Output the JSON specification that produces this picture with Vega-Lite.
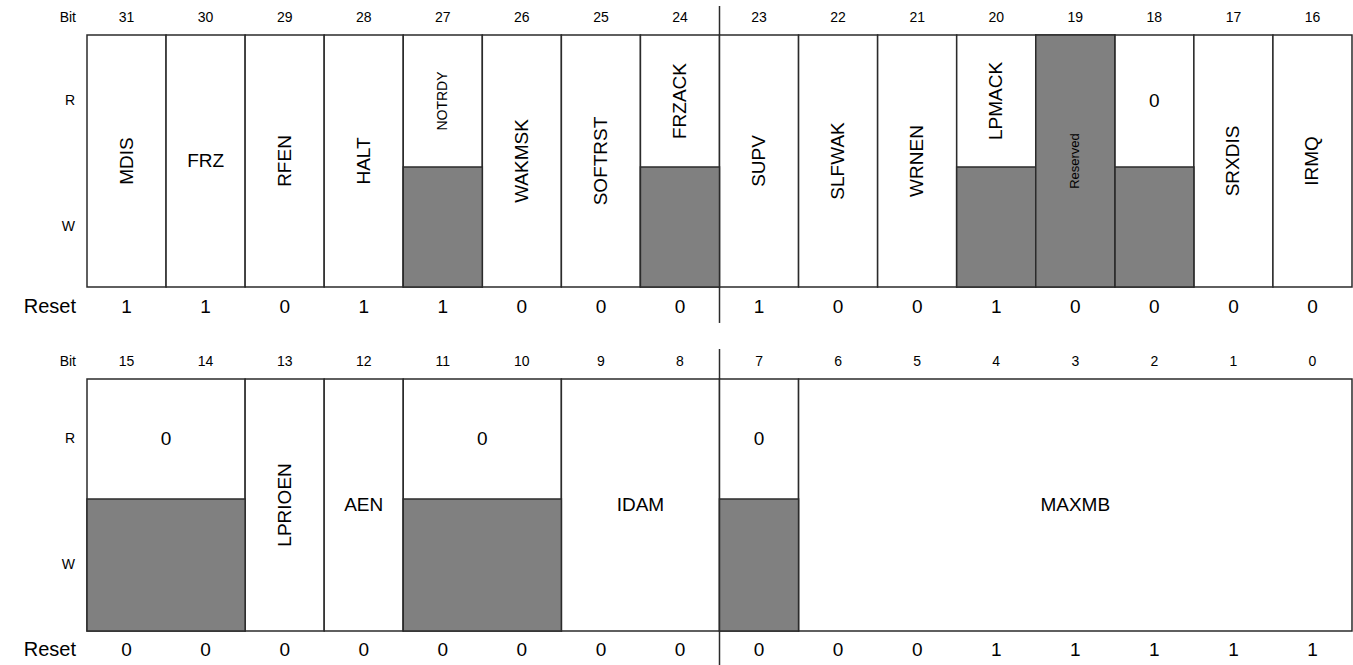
{
  "$schema": "https://vega.github.io/schema/vega-lite/v6.json",
  "width": 1353,
  "height": 665,
  "autosize": {"type": "none"},
  "padding": 0,
  "background": "white",
  "config": {"view": {"stroke": null}, "text": {"font": "Liberation Sans", "color": "#000"}},
  "datasets": {
    "hiFields": [
      {"name": "MDIS", "msb": 31, "lsb": 31, "access": "rw"},
      {"name": "FRZ", "msb": 30, "lsb": 30, "access": "rw"},
      {"name": "RFEN", "msb": 29, "lsb": 29, "access": "rw"},
      {"name": "HALT", "msb": 28, "lsb": 28, "access": "rw"},
      {"name": "NOTRDY", "msb": 27, "lsb": 27, "access": "r"},
      {"name": "WAKMSK", "msb": 26, "lsb": 26, "access": "rw"},
      {"name": "SOFTRST", "msb": 25, "lsb": 25, "access": "rw"},
      {"name": "FRZACK", "msb": 24, "lsb": 24, "access": "r"},
      {"name": "SUPV", "msb": 23, "lsb": 23, "access": "rw"},
      {"name": "SLFWAK", "msb": 22, "lsb": 22, "access": "rw"},
      {"name": "WRNEN", "msb": 21, "lsb": 21, "access": "rw"},
      {"name": "LPMACK", "msb": 20, "lsb": 20, "access": "r"},
      {"name": "Reserved", "msb": 19, "lsb": 19, "access": "reserved"},
      {"name": "0", "msb": 18, "lsb": 18, "access": "r"},
      {"name": "SRXDIS", "msb": 17, "lsb": 17, "access": "rw"},
      {"name": "IRMQ", "msb": 16, "lsb": 16, "access": "rw"}
    ],
    "loFields": [
      {"name": "0", "msb": 15, "lsb": 14, "access": "r"},
      {"name": "LPRIOEN", "msb": 13, "lsb": 13, "access": "rw"},
      {"name": "AEN", "msb": 12, "lsb": 12, "access": "rw"},
      {"name": "0", "msb": 11, "lsb": 10, "access": "r"},
      {"name": "IDAM", "msb": 9, "lsb": 8, "access": "rw"},
      {"name": "0", "msb": 7, "lsb": 7, "access": "r"},
      {"name": "MAXMB", "msb": 6, "lsb": 0, "access": "rw"}
    ],
    "hiBits": [
      {"bit": 31, "reset": 1}, {"bit": 30, "reset": 1}, {"bit": 29, "reset": 0}, {"bit": 28, "reset": 1},
      {"bit": 27, "reset": 1}, {"bit": 26, "reset": 0}, {"bit": 25, "reset": 0}, {"bit": 24, "reset": 0},
      {"bit": 23, "reset": 1}, {"bit": 22, "reset": 0}, {"bit": 21, "reset": 0}, {"bit": 20, "reset": 1},
      {"bit": 19, "reset": 0}, {"bit": 18, "reset": 0}, {"bit": 17, "reset": 0}, {"bit": 16, "reset": 0}
    ],
    "loBits": [
      {"bit": 15, "reset": 0}, {"bit": 14, "reset": 0}, {"bit": 13, "reset": 0}, {"bit": 12, "reset": 0},
      {"bit": 11, "reset": 0}, {"bit": 10, "reset": 0}, {"bit": 9, "reset": 0}, {"bit": 8, "reset": 0},
      {"bit": 7, "reset": 0}, {"bit": 6, "reset": 0}, {"bit": 5, "reset": 0}, {"bit": 4, "reset": 1},
      {"bit": 3, "reset": 1}, {"bit": 2, "reset": 1}, {"bit": 1, "reset": 1}, {"bit": 0, "reset": 1}
    ]
  },
  "resolve": {"scale": {"x": "independent"}},
  "layer": [
    {
      "layer": [
        {
          "data": {"name": "hiFields"},
          "mark": {"type": "rect", "fill": "white", "stroke": "#2b2b2b", "strokeWidth": 1.5, "xOffset": -39.53, "x2Offset": 39.53},
          "encoding": {
            "x": {"field": "msb", "type": "quantitative", "scale": {"domain": [31.5, 15.5], "range": [87, 1352], "zero": false, "nice": false}, "axis": null},
            "x2": {"field": "lsb"},
            "y": {"datum": 1, "type": "quantitative", "scale": {"domain": [-1, 0, 1, 2, 3, 4, 5, 6, 7, 8, 9, 10], "range": [0, 18, 35, 167, 287, 307, 362, 379, 499, 631, 650, 665], "zero": false, "nice": false}, "axis": null},
            "y2": {"datum": 3}
          }
        },
        {
          "data": {"name": "hiFields"},
          "transform": [{"filter": "datum.access === 'r'"}],
          "mark": {"type": "rect", "fill": "#808080", "stroke": "#2b2b2b", "strokeWidth": 1.5, "xOffset": -39.53, "x2Offset": 39.53},
          "encoding": {
            "x": {"field": "msb", "type": "quantitative"},
            "x2": {"field": "lsb"},
            "y": {"datum": 2, "type": "quantitative"},
            "y2": {"datum": 3}
          }
        },
        {
          "data": {"name": "hiFields"},
          "transform": [{"filter": "datum.access === 'reserved'"}],
          "mark": {"type": "rect", "fill": "#808080", "stroke": "#2b2b2b", "strokeWidth": 1.5, "xOffset": -39.53, "x2Offset": 39.53},
          "encoding": {
            "x": {"field": "msb", "type": "quantitative"},
            "x2": {"field": "lsb"},
            "y": {"datum": 1, "type": "quantitative"},
            "y2": {"datum": 3}
          }
        },
        {
          "data": {"name": "hiFields"},
          "transform": [{"filter": "datum.access === 'rw' && datum.name !== 'FRZ'"}],
          "mark": {"type": "text", "angle": 270, "fontSize": 19, "align": "center", "baseline": "middle"},
          "encoding": {
            "x": {"field": "msb", "type": "quantitative"},
            "y": {"datum": 1.9545, "type": "quantitative"},
            "text": {"field": "name"}
          }
        },
        {
          "data": {"name": "hiFields"},
          "transform": [{"filter": "datum.name === 'FRZ'"}],
          "mark": {"type": "text", "fontSize": 19, "align": "center", "baseline": "middle"},
          "encoding": {
            "x": {"field": "msb", "type": "quantitative"},
            "y": {"datum": 1.9545, "type": "quantitative"},
            "text": {"field": "name"}
          }
        },
        {
          "data": {"name": "hiFields"},
          "transform": [{"filter": "datum.name === 'FRZACK' || datum.name === 'LPMACK'"}],
          "mark": {"type": "text", "angle": 270, "fontSize": 19, "align": "center", "baseline": "middle"},
          "encoding": {
            "x": {"field": "msb", "type": "quantitative"},
            "y": {"datum": 1.5, "type": "quantitative"},
            "text": {"field": "name"}
          }
        },
        {
          "data": {"name": "hiFields"},
          "transform": [{"filter": "datum.name === 'NOTRDY'"}],
          "mark": {"type": "text", "angle": 270, "fontSize": 14, "align": "center", "baseline": "middle"},
          "encoding": {
            "x": {"field": "msb", "type": "quantitative"},
            "y": {"datum": 1.5, "type": "quantitative"},
            "text": {"field": "name"}
          }
        },
        {
          "data": {"name": "hiFields"},
          "transform": [{"filter": "datum.name === '0'"}],
          "mark": {"type": "text", "fontSize": 19, "align": "center", "baseline": "middle"},
          "encoding": {
            "x": {"field": "msb", "type": "quantitative"},
            "y": {"datum": 1.5, "type": "quantitative"},
            "text": {"field": "name"}
          }
        },
        {
          "data": {"name": "hiFields"},
          "transform": [{"filter": "datum.access === 'reserved'"}],
          "mark": {"type": "text", "angle": 270, "fontSize": 13, "align": "center", "baseline": "middle"},
          "encoding": {
            "x": {"field": "msb", "type": "quantitative"},
            "y": {"datum": 1.9545, "type": "quantitative"},
            "text": {"field": "name"}
          }
        },
        {
          "data": {"name": "hiBits"},
          "mark": {"type": "text", "fontSize": 14, "align": "center", "baseline": "middle"},
          "encoding": {
            "x": {"field": "bit", "type": "quantitative"},
            "y": {"datum": 0, "type": "quantitative"},
            "text": {"field": "bit", "type": "nominal"}
          }
        },
        {
          "data": {"name": "hiBits"},
          "mark": {"type": "text", "fontSize": 19, "align": "center", "baseline": "middle"},
          "encoding": {
            "x": {"field": "bit", "type": "quantitative"},
            "y": {"datum": 4, "type": "quantitative"},
            "text": {"field": "reset", "type": "nominal"}
          }
        },
        {
          "data": {"values": [{"label": "Bit"}]},
          "mark": {"type": "text", "fontSize": 14, "align": "right", "baseline": "middle", "dx": -11},
          "encoding": {
            "x": {"datum": 31.5, "type": "quantitative"},
            "y": {"datum": 0, "type": "quantitative"},
            "text": {"field": "label"}
          }
        },
        {
          "data": {"values": [{"label": "R"}]},
          "mark": {"type": "text", "fontSize": 14, "align": "right", "baseline": "middle", "dx": -12},
          "encoding": {
            "x": {"datum": 31.5, "type": "quantitative"},
            "y": {"datum": 1.5, "type": "quantitative"},
            "text": {"field": "label"}
          }
        },
        {
          "data": {"values": [{"label": "W"}]},
          "mark": {"type": "text", "fontSize": 14, "align": "right", "baseline": "middle", "dx": -12},
          "encoding": {
            "x": {"datum": 31.5, "type": "quantitative"},
            "y": {"datum": 2.5, "type": "quantitative"},
            "text": {"field": "label"}
          }
        },
        {
          "data": {"values": [{"label": "Reset"}]},
          "mark": {"type": "text", "fontSize": 20, "align": "right", "baseline": "middle", "dx": -11},
          "encoding": {
            "x": {"datum": 31.5, "type": "quantitative"},
            "y": {"datum": 4, "type": "quantitative"},
            "text": {"field": "label"}
          }
        },
        {
          "data": {"values": [{"a": 1}]},
          "mark": {"type": "rule", "stroke": "#2b2b2b", "strokeWidth": 1.5},
          "encoding": {
            "x": {"datum": 23.5, "type": "quantitative"},
            "y": {"datum": -0.667, "type": "quantitative"},
            "y2": {"datum": 1}
          }
        },
        {
          "data": {"values": [{"a": 1}]},
          "mark": {"type": "rule", "stroke": "#2b2b2b", "strokeWidth": 1.5},
          "encoding": {
            "x": {"datum": 23.5, "type": "quantitative"},
            "y": {"datum": 3, "type": "quantitative"},
            "y2": {"datum": 4.29}
          }
        }
      ]
    },
    {
      "layer": [
        {
          "data": {"name": "loFields"},
          "mark": {"type": "rect", "fill": "white", "stroke": "#2b2b2b", "strokeWidth": 1.5, "xOffset": -39.53, "x2Offset": 39.53},
          "encoding": {
            "x": {"field": "msb", "type": "quantitative", "scale": {"domain": [15.5, -0.5], "range": [87, 1352], "zero": false, "nice": false}, "axis": null},
            "x2": {"field": "lsb"},
            "y": {"datum": 6, "type": "quantitative", "scale": {"domain": [-1, 0, 1, 2, 3, 4, 5, 6, 7, 8, 9, 10], "range": [0, 18, 35, 167, 287, 307, 362, 379, 499, 631, 650, 665], "zero": false, "nice": false}, "axis": null},
            "y2": {"datum": 8}
          }
        },
        {
          "data": {"name": "loFields"},
          "transform": [{"filter": "datum.access === 'r'"}],
          "mark": {"type": "rect", "fill": "#808080", "stroke": "#2b2b2b", "strokeWidth": 1.5, "xOffset": -39.53, "x2Offset": 39.53},
          "encoding": {
            "x": {"field": "msb", "type": "quantitative"},
            "x2": {"field": "lsb"},
            "y": {"datum": 7, "type": "quantitative"},
            "y2": {"datum": 8}
          }
        },
        {
          "data": {"name": "loFields"},
          "transform": [{"filter": "datum.name === 'LPRIOEN'"}],
          "mark": {"type": "text", "angle": 270, "fontSize": 19, "align": "center", "baseline": "middle"},
          "encoding": {
            "x": {"field": "msb", "type": "quantitative"},
            "y": {"datum": 7.045, "type": "quantitative"},
            "text": {"field": "name"}
          }
        },
        {
          "data": {"name": "loFields"},
          "transform": [
            {"filter": "datum.access === 'rw' && datum.name !== 'LPRIOEN'"},
            {"fold": ["msb", "lsb"], "as": ["end", "pos"]}
          ],
          "mark": {"type": "text", "fontSize": 19, "align": "center", "baseline": "middle"},
          "encoding": {
            "x": {"field": "pos", "aggregate": "mean", "type": "quantitative"},
            "y": {"datum": 7.045, "type": "quantitative"},
            "text": {"field": "name"},
            "detail": {"field": "msb"}
          }
        },
        {
          "data": {"name": "loFields"},
          "transform": [
            {"filter": "datum.access === 'r'"},
            {"fold": ["msb", "lsb"], "as": ["end", "pos"]}
          ],
          "mark": {"type": "text", "fontSize": 19, "align": "center", "baseline": "middle"},
          "encoding": {
            "x": {"field": "pos", "aggregate": "mean", "type": "quantitative"},
            "y": {"datum": 6.5, "type": "quantitative"},
            "text": {"field": "name"},
            "detail": {"field": "msb"}
          }
        },
        {
          "data": {"name": "loBits"},
          "mark": {"type": "text", "fontSize": 14, "align": "center", "baseline": "middle"},
          "encoding": {
            "x": {"field": "bit", "type": "quantitative"},
            "y": {"datum": 5, "type": "quantitative"},
            "text": {"field": "bit", "type": "nominal"}
          }
        },
        {
          "data": {"name": "loBits"},
          "mark": {"type": "text", "fontSize": 19, "align": "center", "baseline": "middle"},
          "encoding": {
            "x": {"field": "bit", "type": "quantitative"},
            "y": {"datum": 9, "type": "quantitative"},
            "text": {"field": "reset", "type": "nominal"}
          }
        },
        {
          "data": {"values": [{"label": "Bit"}]},
          "mark": {"type": "text", "fontSize": 14, "align": "right", "baseline": "middle", "dx": -11},
          "encoding": {
            "x": {"datum": 15.5, "type": "quantitative"},
            "y": {"datum": 5, "type": "quantitative"},
            "text": {"field": "label"}
          }
        },
        {
          "data": {"values": [{"label": "R"}]},
          "mark": {"type": "text", "fontSize": 14, "align": "right", "baseline": "middle", "dx": -12},
          "encoding": {
            "x": {"datum": 15.5, "type": "quantitative"},
            "y": {"datum": 6.5, "type": "quantitative"},
            "text": {"field": "label"}
          }
        },
        {
          "data": {"values": [{"label": "W"}]},
          "mark": {"type": "text", "fontSize": 14, "align": "right", "baseline": "middle", "dx": -12},
          "encoding": {
            "x": {"datum": 15.5, "type": "quantitative"},
            "y": {"datum": 7.5, "type": "quantitative"},
            "text": {"field": "label"}
          }
        },
        {
          "data": {"values": [{"label": "Reset"}]},
          "mark": {"type": "text", "fontSize": 20, "align": "right", "baseline": "middle", "dx": -11},
          "encoding": {
            "x": {"datum": 15.5, "type": "quantitative"},
            "y": {"datum": 9, "type": "quantitative"},
            "text": {"field": "label"}
          }
        },
        {
          "data": {"values": [{"a": 1}]},
          "mark": {"type": "rule", "stroke": "#2b2b2b", "strokeWidth": 1.5},
          "encoding": {
            "x": {"datum": 7.5, "type": "quantitative"},
            "y": {"datum": 4.764, "type": "quantitative"},
            "y2": {"datum": 6}
          }
        },
        {
          "data": {"values": [{"a": 1}]},
          "mark": {"type": "rule", "stroke": "#2b2b2b", "strokeWidth": 1.5},
          "encoding": {
            "x": {"datum": 7.5, "type": "quantitative"},
            "y": {"datum": 8, "type": "quantitative"},
            "y2": {"datum": 10}
          }
        }
      ]
    }
  ]
}
